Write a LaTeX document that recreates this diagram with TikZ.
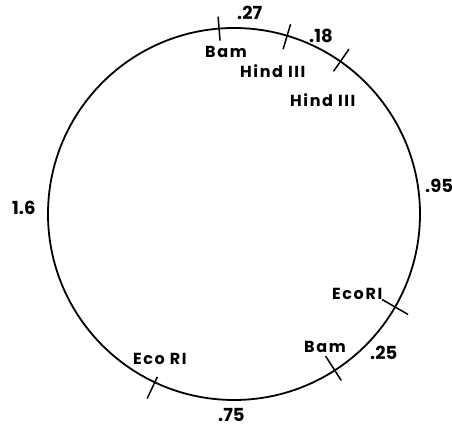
\documentclass[tikz,border=0pt]{standalone}
\usepackage{fontspec}
\setsansfont{Poppins}
\usepackage{tikz}

\tikzset{
    sitelabel/.style={anchor=base west, inner sep=0pt, font=\sffamily\bfseries\fontsize{16}{16}\selectfont\addfontfeatures{LetterSpace=10}},
    lengthlabel/.style={anchor=base west, inner sep=0pt, font=\sffamily\bfseries\fontsize{18}{18}\selectfont},
    cut/.style={line width=1.5pt}
}

\begin{document}
\begin{tikzpicture}[x=1pt, y=1pt]
    \useasboundingbox (-234,-213) rectangle (218,214);

    % plasmid circle
    \draw[line width=1.8pt] (0,0) coordinate (O) circle (186);

    % cut sites
    \draw[cut] (94.6:174) coordinate (bamA) -- (94.6:198);
    \draw[cut] (73.4:172) coordinate (hindA) -- (73.4:198);
    \draw[cut] (55.1:174) coordinate (hindB) -- (55.1:201);
    \draw[cut] (-30:171) coordinate (ecoA) -- (-30:201);
    \draw[cut] (-57.2:169) coordinate (bamB) -- (-57.2:198);
    \draw[cut] (244.8:180) coordinate (ecoB) -- (244.8:204);

    % enzyme names
    \node[sitelabel] (bamAlabel) at (-29,156) {Bam};
    \node[sitelabel] (hindAlabel) at (6,136) {Hind III};
    \node[sitelabel] (hindBlabel) at (56,107) {Hind III};
    \node[sitelabel] (ecoAlabel) at (98,-86) {EcoRI};
    \node[sitelabel] (bamBlabel) at (70,-139) {Bam};
    \node[sitelabel] (ecoBlabel) at (-101,-151) {Eco RI};

    % fragment lengths
    \node[lengthlabel] (lenA) at (3,194) {.27};
    \node[lengthlabel] (lenB) at (75,171) {.18};
    \node[lengthlabel] (lenC) at (191,21) {.95};
    \node[lengthlabel] (lenD) at (136,-146) {.25};
    \node[lengthlabel] (lenE) at (-16,-208) {.75};
    \node[lengthlabel] (lenF) at (-222,-1) {1.6};
\end{tikzpicture}
\end{document}
